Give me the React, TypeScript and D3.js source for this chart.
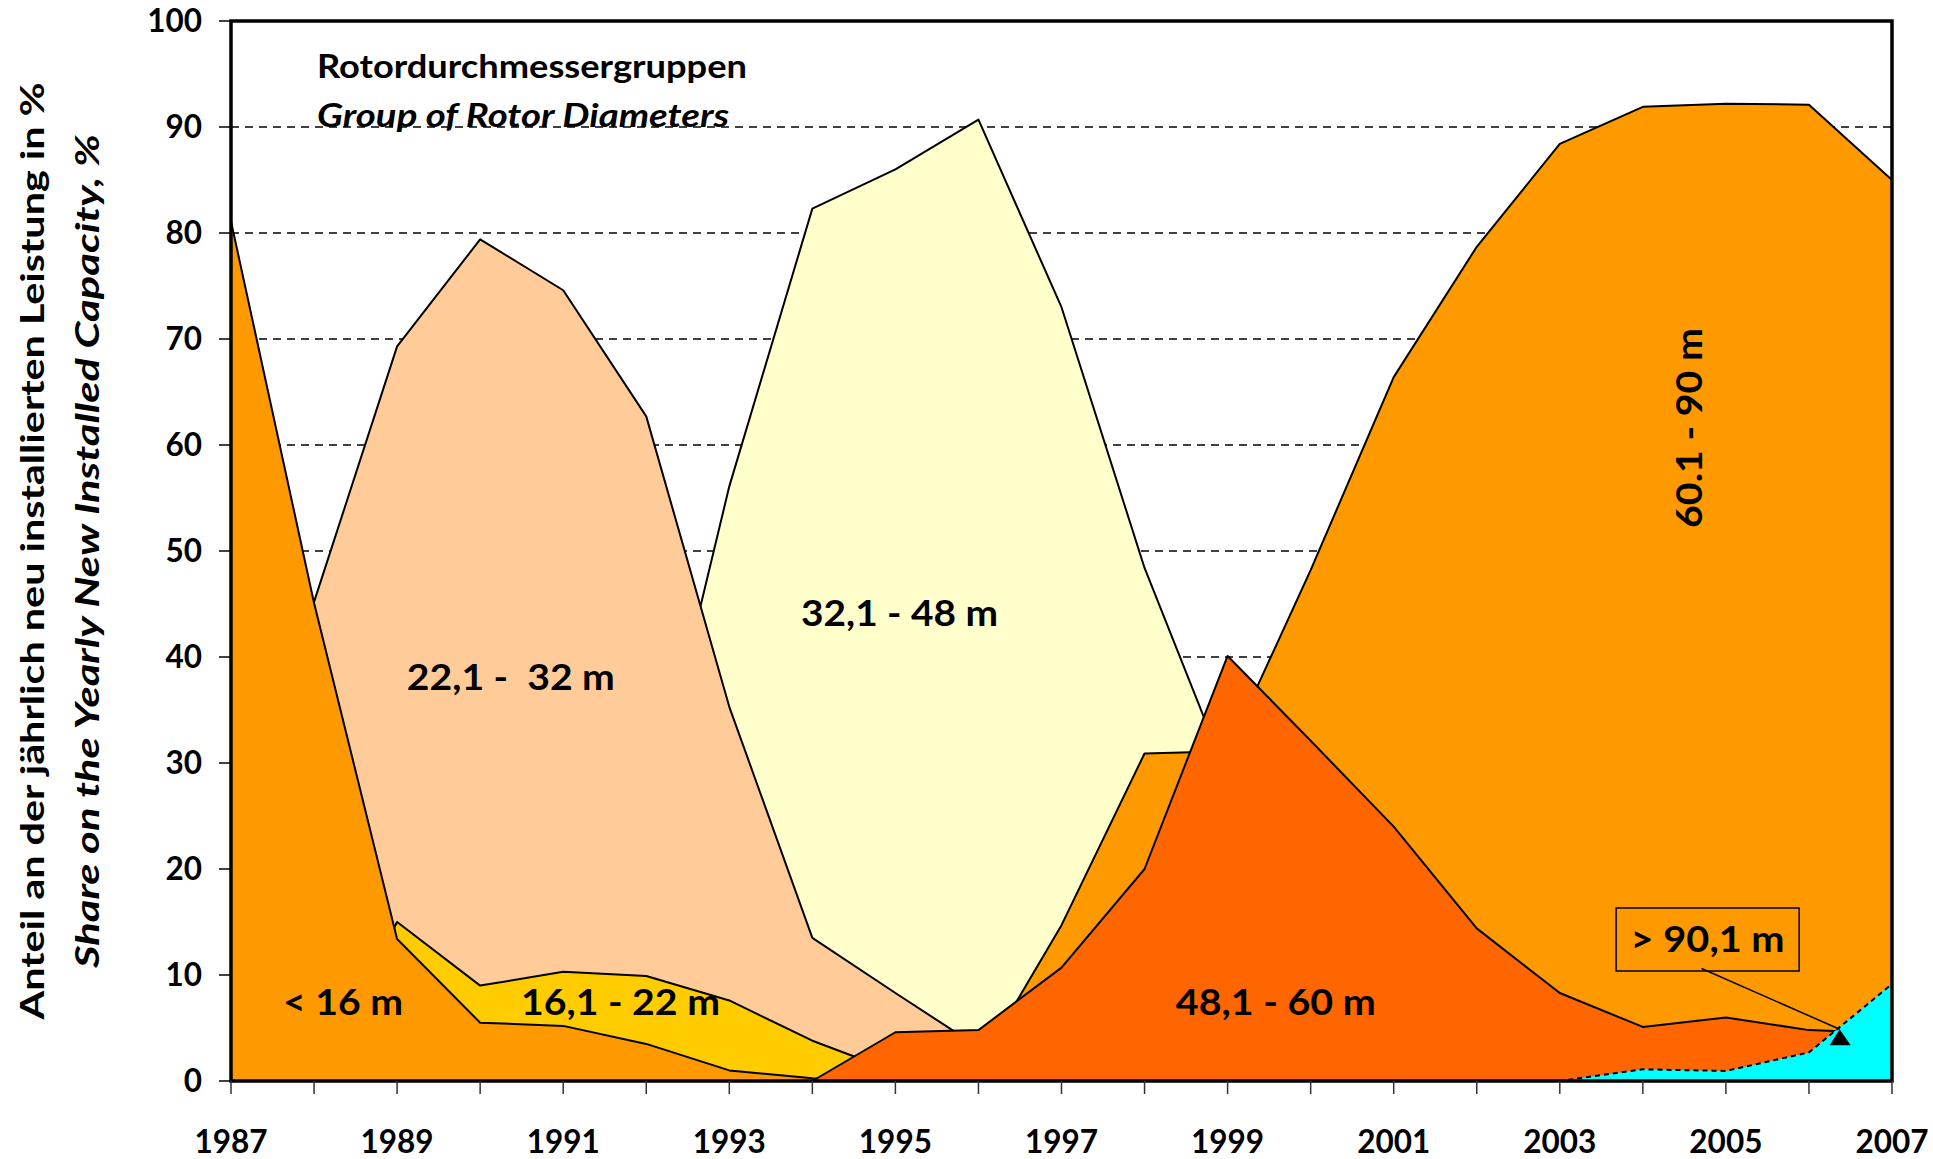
import React, { useEffect, useRef } from 'react';
import * as d3 from 'd3';

// years on the x axis
const years = [1987, 1988, 1989, 1990, 1991, 1992, 1993, 1994, 1995, 1996, 1997,
  1998, 1999, 2000, 2001, 2002, 2003, 2004, 2005, 2006, 2007];
const yearLabels = [1987, 1989, 1991, 1993, 1995, 1997, 1999, 2001, 2003, 2005, 2007];
const yTicks = [0, 10, 20, 30, 40, 50, 60, 70, 80, 90, 100];

// share of yearly new installed capacity in %, per rotor diameter group
const under16 = [81.1, 45.1, 13.4, 5.5, 5.2, 3.5, 1.0, 0.25, 0, null, null,
  null, null, null, null, null, null, null, null, null, null];
const d16to22 = [null, 0, 15.0, 9.0, 10.3, 9.9, 7.6, 3.8, 0.85, 0, null,
  null, null, null, null, null, null, null, null, null, null];
const d22to32 = [0, 45.2, 69.3, 79.4, 74.6, 62.7, 35.3, 13.5, 8.3, 3.2, 0,
  null, null, null, null, null, null, null, null, null, null];
const d32to48 = [null, null, null, null, 0, 23.5, 56.1, 82.3, 86.0, 90.7, 73.0,
  48.4, 28.7, 0, null, null, null, null, null, null, null];
const d48to60 = [null, null, null, null, null, null, null, 0, 4.6, 4.8, 10.7,
  20.0, 40.1, 32.1, 24.0, 14.4, 8.3, 5.1, 6.0, 4.8, 4.5];
const d60to90 = [null, null, null, null, null, null, null, null, 0, 1.4, 14.7,
  30.9, 31.1, 48.2, 66.4, 78.7, 88.4, 91.9, 92.2, 92.1, 85.0];
const over90 = [null, null, null, null, null, null, null, 0, 0, 0, 0,
  0, 0, 0, 0, 0, 0, 1.1, 0.95, 2.7, 9.15];

// back to front, like the overlapping areas of the original
const layers = [
  { values: d32to48, fill: '#FFFFCC', dash: null },
  { values: d22to32, fill: '#FFCC99', dash: null },
  { values: d16to22, fill: '#FFCC00', dash: null },
  { values: under16, fill: '#FF9900', dash: null },
  { values: d60to90, fill: '#FF9900', dash: null },
  { values: d48to60, fill: '#FF6600', dash: null },
  { values: over90, fill: '#00FFFF', dash: '5,4' },
];

// series labels: text, [year, value] anchor, width
const labels = [
  { text: '< 16 m', at: [1988.35, 6.23], w: 120, rot: false },
  { text: '16,1 - 22 m', at: [1991.69, 6.23], w: 199, rot: false },
  { text: '22,1 -  32 m', at: [1990.37, 36.9], w: 208, rot: false },
  { text: '32,1 - 48 m', at: [1995.05, 42.9], w: 197, rot: false },
  { text: '48,1 - 60 m', at: [1999.58, 6.23], w: 200, rot: false },
  { text: '60.1 - 90 m', at: [2004.71, 61.6], w: 200, rot: true },
];

const W = 1933;
const H = 1159;
const FONT = 'Lato, "Open Sans", sans-serif';

const App = () => {
  const svgRef = useRef<SVGSVGElement>(null);

  useEffect(() => {
    const svg = d3.select(svgRef.current);
    svg.selectAll('*').remove();

    const margin = { top: 21, right: 41, bottom: 78, left: 231 };
    const x = d3.scaleLinear().domain([1987, 2007]).range([margin.left, W - margin.right]);
    const y = d3.scaleLinear().domain([0, 100]).range([H - margin.bottom, margin.top]);

    svg.append('rect').attr('width', W).attr('height', H).attr('fill', '#fff');

    // dashed gridlines
    svg.append('g')
      .selectAll('line')
      .data(yTicks.filter(t => t > 0 && t < 100))
      .enter().append('line')
      .attr('x1', x(1987)).attr('x2', x(2007))
      .attr('y1', d => y(d)).attr('y2', d => y(d))
      .attr('stroke', '#000').attr('stroke-width', 1.3)
      .attr('stroke-dasharray', '8,6');

    // areas
    const area = d3.area<number | null>()
      .defined(d => d !== null)
      .x((_, i) => x(years[i]))
      .y0(y(0))
      .y1(d => y(d as number));

    layers.forEach(l => {
      svg.append('path')
        .attr('d', area(l.values))
        .attr('fill', l.fill)
        .attr('stroke', '#000')
        .attr('stroke-width', 2)
        .attr('stroke-linejoin', 'round')
        .attr('stroke-dasharray', l.dash);
    });

    // series labels
    labels.forEach(l => {
      const t = svg.append('text')
        .text(l.text)
        .attr('text-anchor', 'middle')
        .attr('font-family', FONT)
        .attr('font-weight', 700)
        .attr('font-size', 37)
        .attr('textLength', l.w)
        .attr('lengthAdjust', 'spacingAndGlyphs')
        .style('white-space', 'pre');
      if (l.rot) {
        t.attr('transform', `translate(${x(l.at[0])},${y(l.at[1])}) rotate(-90)`);
      } else {
        t.attr('x', x(l.at[0])).attr('y', y(l.at[1]));
      }
    });

    // > 90,1 m callout
    const bx = x(2004.78);
    const by = y(13.35);
    svg.append('rect')
      .attr('x', bx - 91.5).attr('y', by - 31.5)
      .attr('width', 183).attr('height', 63)
      .attr('fill', 'none').attr('stroke', '#000').attr('stroke-width', 1.5);
    svg.append('text')
      .text('> 90,1 m')
      .attr('x', bx).attr('y', y(12.17))
      .attr('text-anchor', 'middle')
      .attr('font-family', FONT).attr('font-weight', 700).attr('font-size', 37)
      .attr('textLength', 154).attr('lengthAdjust', 'spacingAndGlyphs');
    const tipX = x(2006.37);
    const tipY = y(4.88);
    svg.append('line')
      .attr('x1', bx - 6).attr('y1', by + 29)
      .attr('x2', tipX).attr('y2', tipY)
      .attr('stroke', '#000').attr('stroke-width', 1.5);
    svg.append('path')
      .attr('d', `M${tipX},${tipY} L${tipX + 11},${tipY + 16} L${tipX - 10},${tipY + 16} Z`)
      .attr('fill', '#000');

    // plot frame
    svg.append('rect')
      .attr('x', x(1987)).attr('y', y(100))
      .attr('width', x(2007) - x(1987)).attr('height', y(0) - y(100))
      .attr('fill', 'none').attr('stroke', '#000').attr('stroke-width', 3.5);

    // y axis
    const yAxis = svg.append('g');
    yAxis.selectAll('line')
      .data(yTicks)
      .enter().append('line')
      .attr('x1', x(1987) - 12).attr('x2', x(1987))
      .attr('y1', d => y(d)).attr('y2', d => y(d))
      .attr('stroke', '#000').attr('stroke-width', 1.5);
    yAxis.selectAll('text')
      .data(yTicks)
      .enter().append('text')
      .text(d => d)
      .attr('x', x(1987) - 29)
      .attr('y', d => y(d) + 11)
      .attr('text-anchor', 'end')
      .attr('font-family', FONT).attr('font-weight', 700).attr('font-size', 31.5);

    // x axis
    const xAxis = svg.append('g');
    xAxis.selectAll('line')
      .data(years)
      .enter().append('line')
      .attr('x1', d => x(d)).attr('x2', d => x(d))
      .attr('y1', y(0)).attr('y2', y(0) + 13)
      .attr('stroke', '#333').attr('stroke-width', 1.5);
    xAxis.selectAll('text')
      .data(yearLabels)
      .enter().append('text')
      .text(d => d)
      .attr('x', d => x(d))
      .attr('y', H - 6)
      .attr('text-anchor', 'middle')
      .attr('font-family', FONT).attr('font-weight', 700).attr('font-size', 31.5);

    // legend title
    svg.append('text')
      .text('Rotordurchmessergruppen')
      .attr('x', 317).attr('y', 78)
      .attr('font-family', FONT).attr('font-weight', 700).attr('font-size', 31.5)
      .attr('textLength', 430).attr('lengthAdjust', 'spacingAndGlyphs');
    svg.append('text')
      .text('Group of Rotor Diameters')
      .attr('x', 317).attr('y', 127)
      .attr('font-family', FONT).attr('font-weight', 700).attr('font-style', 'italic')
      .attr('font-size', 31.5)
      .attr('textLength', 412).attr('lengthAdjust', 'spacingAndGlyphs');

    // y axis title
    const cy = (y(0) + y(100)) / 2;
    svg.append('text')
      .text('Anteil an der jährlich neu installierten Leistung in %')
      .attr('transform', `translate(44,${cy}) rotate(-90)`)
      .attr('text-anchor', 'middle')
      .attr('font-family', FONT).attr('font-weight', 700).attr('font-size', 33)
      .attr('textLength', 937).attr('lengthAdjust', 'spacingAndGlyphs');
    svg.append('text')
      .text('Share on the Yearly New Installed Capacity, %')
      .attr('transform', `translate(99,${cy}) rotate(-90)`)
      .attr('text-anchor', 'middle')
      .attr('font-family', FONT).attr('font-weight', 700).attr('font-style', 'italic')
      .attr('font-size', 33)
      .attr('textLength', 834).attr('lengthAdjust', 'spacingAndGlyphs');
  }, []);

  return (
    <svg ref={svgRef} width={W} height={H}
      style={{ position: 'absolute', left: 0, top: 0, display: 'block' }}></svg>
  );
};

export default App;
